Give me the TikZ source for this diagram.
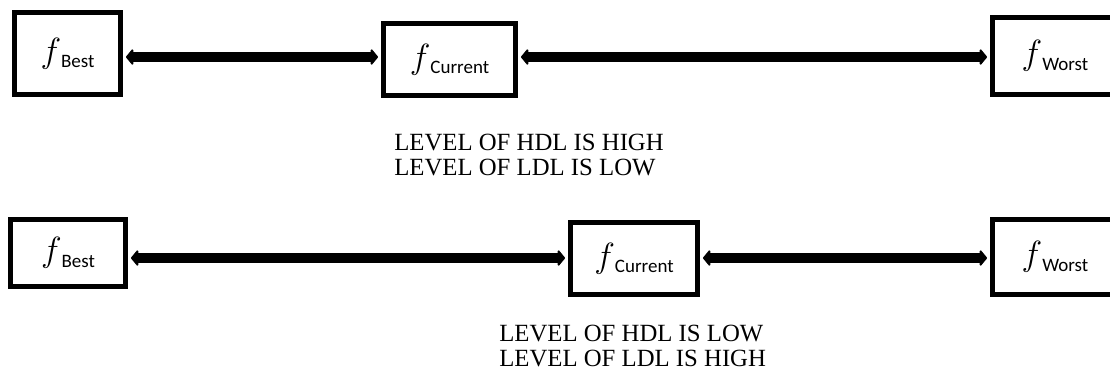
\documentclass[tikz,border=0pt]{standalone}
\usepackage{fontspec}
\setmainfont{Liberation Serif}
\newfontfamily\calibrifont{Carlito}
\usepackage{tikz}
\usetikzlibrary{arrows.meta, positioning}

% f with a sans subscript
\newcommand{\fval}[1]{{\fontsize{27}{27}\selectfont$f$}\raisebox{-4pt}{\calibrifont\fontsize{13.5}{14}\selectfont #1}}

\begin{document}
\begin{tikzpicture}[
    x=0.025cm,
    y=-0.025cm,
    valbox/.style={rectangle, draw=black, line width=3.5pt, fill=white, inner sep=0pt},
    link/.style={line width=7.6pt, {Triangle[round, length=5.5pt, width=13pt]}-{Triangle[round, length=5.5pt, width=13pt]}, shorten <=0.075cm, shorten >=0.075cm},
    level/.style={align=left, anchor=west, inner sep=0pt, font=\fontsize{17.6}{17.8}\selectfont}
]
\useasboundingbox (0,0) rectangle (1110,378);
\clip (0,0) rectangle (1110,378);

\coordinate (row1) at (0,57);
\coordinate (row2) at (0,258);

% First case
\node [valbox, minimum width=2.65cm, minimum height=2.05cm] (best1) at (67.5,53.5) {\fval{Best}};
\node [valbox, minimum width=3.3cm, minimum height=1.8cm] (current1) at (449.5,59.5) {\fval{Current}};
\node [valbox, minimum width=3.125cm, minimum height=1.925cm] (worst1) at (1055,56) {\fval{Worst}};

\draw [link] (best1.east |- row1) -- (current1.west |- row1);
\draw [link] (current1.east |- row1) -- (worst1.west |- row1);

\node [level] (note1) at (394,155) {LEVEL OF HDL IS HIGH\\LEVEL OF LDL IS LOW};

% Second case
\node [valbox, minimum width=2.875cm, minimum height=1.675cm] (best2) at (68,253) {\fval{Best}};
\node [valbox, minimum width=3.175cm, minimum height=1.8cm] (current2) at (634,258.5) {\fval{Current}};
\node [valbox, minimum width=3.125cm, minimum height=1.875cm] (worst2) at (1055,257) {\fval{Worst}};

\draw [link] (best2.east |- row2) -- (current2.west |- row2);
\draw [link] (current2.east |- row2) -- (worst2.west |- row2);

\node [level] (note2) at (499,346) {LEVEL OF HDL IS LOW\\LEVEL OF LDL IS HIGH};

\end{tikzpicture}
\end{document}
